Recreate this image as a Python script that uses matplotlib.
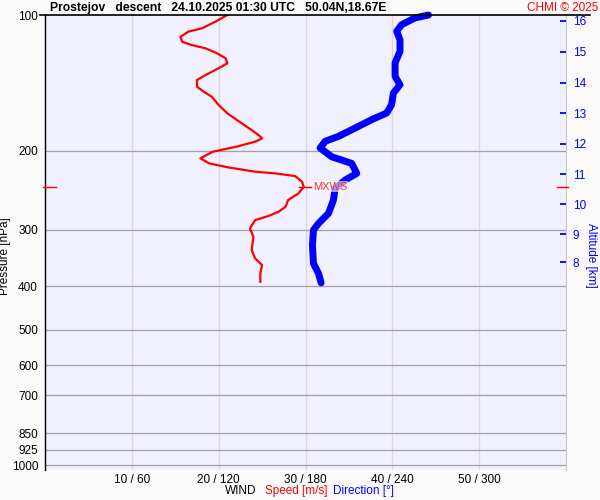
import matplotlib
matplotlib.use("Agg")
import matplotlib.pyplot as plt
from matplotlib.lines import Line2D
import matplotlib.transforms as mtransforms

plt.rcParams['font.family'] = ['Liberation Sans', 'DejaVu Sans']

# ---- data ----
speed_p = [100, 103.5, 107.0, 108.9, 111.8, 114.7, 116.6, 118.6, 121.6, 124.8,
           128.0, 131.3, 135.9, 139.5, 144.3, 148.1, 151.9, 158.5, 165.4, 171.1,
           178.5, 184.8, 187.9, 191.2, 196.2, 201.3, 208.2, 213.6, 218.0, 222.9,
           224.8, 227.9, 234.6, 240.8, 249.0, 257.7, 266.7, 273.6, 279.7, 285.5,
           297.9, 310.9, 332.8, 347.3, 359.4, 375.0, 391.5]
speed = [21.0, 19.6, 18.1, 16.5, 15.6, 15.8, 16.9, 18.5, 19.8, 20.8,
         21.0, 20.0, 18.5, 17.5, 17.5, 18.3, 19.2, 20.0, 21.0, 22.1,
         23.5, 24.6, 25.0, 24.2, 22.0, 19.3, 17.9, 18.9, 21.1, 24.2,
         26.5, 28.8, 29.6, 29.8, 29.2, 28.0, 27.7, 26.9, 25.7, 24.2,
         23.6, 24.0, 23.8, 24.2, 25.0, 24.8, 24.8]

dir_p = [100, 101.5, 105.1, 108.7, 113.5, 120.4, 127.8, 136.9, 142.9, 149.1,
         158.2, 165.1, 170.8, 178.3, 186.0, 190.8, 197.4, 206.5, 213.6, 224.8,
         232.6, 242.7, 257.7, 275.8, 290.4, 300.4, 324.4, 356.3, 375.0, 393.5]
direction = [265, 255.7, 246.4, 243.0, 245.3, 245.3, 241.9, 241.9, 245.3, 240.7,
             239.5, 236.1, 225.7, 214.3, 202.8, 193.6, 190.1, 198.1, 211.9, 215.4,
             207.4, 200.5, 199.3, 195.9, 189.0, 185.5, 184.8, 185.5, 189.0, 190.8]

pressure_ticks = [100, 200, 300, 400, 500, 600, 700, 850, 925, 1000]
x_ticks = [10, 20, 30, 40, 50]
x_tick_labels = ["10 / 60", "20 / 120", "30 / 180", "40 / 240", "50 / 300"]
alt_km = [16, 15, 14, 13, 12, 11, 10, 9, 8]
alt_p = [103.1, 120.6, 141.4, 165.4, 193.4, 225.6, 263.5, 307.3, 354.5]
mxws_p = 240.5
mxws_speed = 29.8

title = "Prostejov   descent   24.10.2025 01:30 UTC   50.04N,18.67E"

# ---- figure ----
fig = plt.figure(figsize=(6, 5), dpi=100, facecolor='#FAFAFA')
ax = fig.add_axes([45/600, 30/500, (566-45)/600, (470-15)/500])
ax.set_facecolor('#F0F0FF')
ax.set_yscale('log')
ax.set_ylim(1025, 100)
ax.set_xlim(0, 60)

# grids
for p in pressure_ticks[1:]:
    ax.axhline(p, color='#A0A0A0', lw=0.9, zorder=1)
for x in x_ticks:
    ax.axvline(x, color='#D8D8D8', lw=0.9, zorder=0.5)

ax.set_yticks(pressure_ticks)
ax.set_yticklabels([str(p) for p in pressure_ticks])
ax.yaxis.set_minor_locator(matplotlib.ticker.NullLocator())
ax.tick_params(axis='y', length=0, pad=5, labelsize=8.5)
ax.set_xticks(x_ticks)
ax.set_xticklabels(x_tick_labels)
ax.tick_params(axis='x', length=0, pad=3, labelsize=8.5)

for s in ['top', 'bottom']:
    ax.spines[s].set_visible(False)
ax.spines['left'].set_color('black')
ax.spines['left'].set_linewidth(1.0)
ax.spines['right'].set_color('#C8C8C8')

# curves
direction_x = [d / 6 for d in direction]
ax.plot(direction_x, dir_p, color='#0000FF', lw=5, solid_capstyle='round',
        solid_joinstyle='round', zorder=3, clip_on=False)
ax.plot(speed, speed_p, color='#FF0000', lw=1.6, solid_joinstyle='round', zorder=4)

# MXWS marks
blend = mtransforms.blended_transform_factory(ax.transAxes, ax.transData)
ax.plot([-0.004, 0.021], [mxws_p, mxws_p], color='#FF0000', lw=1, transform=blend, clip_on=False, zorder=5)
ax.plot([0.983, 1.004], [mxws_p, mxws_p], color='#FF0000', lw=1, transform=blend, clip_on=False, zorder=5)
ax.plot([mxws_speed - 0.6, mxws_speed + 0.8], [mxws_p, mxws_p], color='#FF0000', lw=1, zorder=5)
ax.text(mxws_speed + 1.1, mxws_p, "MXWS", color='#FF3030', fontsize=8, va='center', ha='left',
        zorder=6, bbox=dict(facecolor='white', alpha=0.6, edgecolor='none', pad=0.5))

ax.set_ylabel("Pressure [hPa]", fontsize=8.5, labelpad=3)
ax.yaxis.set_label_coords(-0.065, 0.47)

# altitude axis
ax2 = ax.twinx()
ax2.set_yscale('log')
ax2.set_ylim(1025, 100)
ax2.set_yticks(alt_p)
ax2.set_yticklabels([str(a) for a in alt_km])
ax2.yaxis.set_minor_locator(matplotlib.ticker.NullLocator())
ax2.tick_params(axis='y', direction='in', length=4.5, width=1.3, color='#0000FF',
                labelcolor='#0000FF', pad=5, labelsize=8.5)
for s in ax2.spines.values():
    s.set_visible(False)
fig.text(591/600, 1 - 255/500, "Altitude [km]", color='#0000FF', fontsize=8.5,
         rotation=270, va='center', ha='center')

# top line and texts
fig.add_artist(Line2D([40/600, 590/600], [485/500, 485/500], color='black', lw=1.2))
fig.text(50/600, 1 - 8/500, title, fontsize=8.7, fontweight='bold', va='center', ha='left')
fig.text(598/600, 1 - 8/500, "CHMI © 2025", fontsize=8.5, color='#FF0000', va='center', ha='right')

fig.text(225/600, 1 - 491/500, "WIND", fontsize=8.5, color='black', va='center', ha='left')
fig.text(265/600, 1 - 491/500, "Speed [m/s]", fontsize=8.5, color='#FF0000', va='center', ha='left')
fig.text(333/600, 1 - 491/500, "Direction [°]", fontsize=8.5, color='#0000FF', va='center', ha='left')

fig.savefig("out.png", dpi=100, facecolor=fig.get_facecolor())
